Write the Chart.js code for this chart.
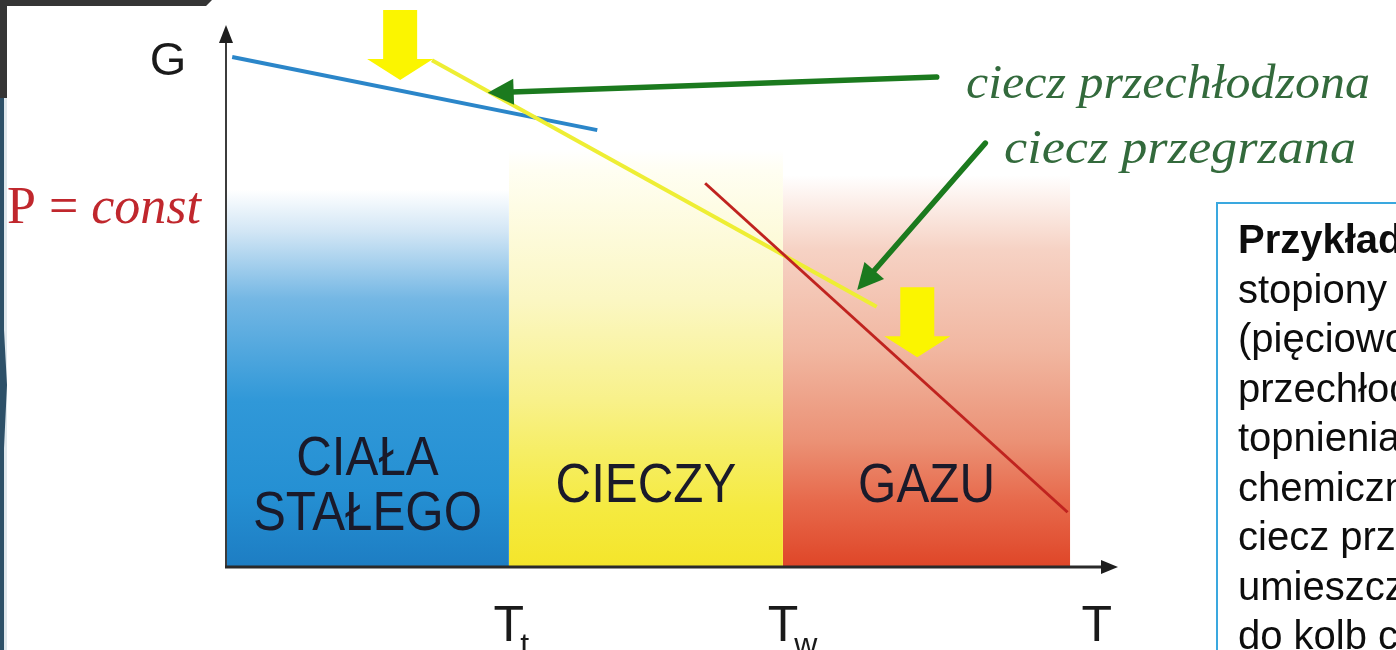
<!DOCTYPE html>
<html lang="pl">
<head>
<meta charset="utf-8">
<title>Energia swobodna G w funkcji temperatury (P = const)</title>
<script src="https://cdn.jsdelivr.net/npm/chart.js@4.4.1/dist/chart.umd.min.js"></script>
<style>
  html, body { margin: 0; padding: 0; background: #ffffff; overflow: hidden; }
  #wrap { position: relative; width: 1396px; height: 650px; }
</style>
</head>
<body>
<div id="wrap"><canvas id="chart"></canvas></div>
<script>
// Temperature T and Gibbs energy G, both in arbitrary units 0–100.
const phaseNames  = [['CIAŁA', 'STAŁEGO'], ['CIECZY'], ['GAZU']];
const phaseStartT = [0, 32, 63];
const phaseEndT   = [32, 63, 95.5];
const phaseTopG   = [69.6, 77, 72.3];

// G(T) of each phase
const solidT  = [0.7, 42];
const solidG  = [94.1, 80.6];
const liquidT = [23.3, 73.6];
const liquidG = [93.5, 48];
const gasT    = [54.2, 95.2];
const gasG    = [70.8, 10.1];

// temperature ticks: melting point, boiling point, axis name
const tickT    = [32, 63, 98.5];
const tickMain = ['T', 'T', 'T'];
const tickSub  = ['t', 'w', ''];

// labelled arrows pointing at the metastable liquid branches
const noteTexts     = ['ciecz przechłodzona', 'ciecz przegrzana'];
const noteTailT     = [80.4, 85.9];
const noteTailG     = [90.4, 78.2];
const noteTipT      = [29.6, 71.4];
const noteTipG      = [87.5, 51.1];

// yellow arrows marking where the metastable liquid drops to the stable phase
const dropTipT = [19.7, 78.2];
const dropTipG = [89.85, 38.7];

const sideNote = [
  'Przykład:', 'stopiony', '(pięciowodny)', 'przechłodzony', 'topnienia',
  'chemicznie', 'ciecz przechłodzona', 'umieszczona', 'do kolb chemicznych'
];

const phaseStops = [
  [[0, '#ffffff'], [0.11, '#d2e6f5'], [0.29, '#74b7e4'], [0.56, '#3098d8'], [0.8, '#2590d3'], [1, '#1d7dc3']],
  [[0, '#ffffff'], [0.05, '#fffef2'], [0.36, '#fbf7c3'], [0.6, '#f8f18a'], [0.72, '#f6ee66'], [0.86, '#f5ea40'], [1, '#f4e52a']],
  [[0, '#ffffff'], [0.05, '#fdf3ef'], [0.19, '#f6d2c4'], [0.45, '#f1b6a0'], [0.68, '#eb9175'], [0.83, '#e76a4c'], [1, '#df4628']]
];

function phaseFill(i) {
  return (context) => {
    const chart = context.chart;
    const { ctx, chartArea, scales } = chart;
    if (!chartArea) return 'rgba(0,0,0,0)';
    const top = scales.y.getPixelForValue(phaseTopG[i]);
    const bottom = scales.y.getPixelForValue(0);
    const g = ctx.createLinearGradient(0, top, 0, bottom);
    phaseStops[i].forEach(([o, c]) => g.addColorStop(o, c));
    return g;
  };
}

const pts = (ts, gs) => ts.map((t, i) => ({ x: t, y: gs[i] }));

const phaseSets = phaseNames.map((name, i) => ({
  label: name.join(' '),
  data: [{ x: phaseStartT[i], y: phaseTopG[i] }, { x: phaseEndT[i], y: phaseTopG[i] }],
  fill: 'origin',
  backgroundColor: phaseFill(i),
  borderColor: 'rgba(0,0,0,0)',
  borderWidth: 0,
  pointRadius: 0,
  order: 10
}));

const curveSets = [
  { label: 'gaz', data: pts(gasT, gasG), borderColor: '#c0231f', borderWidth: 3, order: 1 },
  { label: 'ciecz', data: pts(liquidT, liquidG), borderColor: '#eeee34', borderWidth: 4, order: 2 },
  { label: 'ciało stałe', data: pts(solidT, solidG), borderColor: '#2b86c9', borderWidth: 4, order: 3 }
].map(d => Object.assign(d, { fill: false, pointRadius: 0, tension: 0 }));

function px(chart, t, g) {
  return [chart.scales.x.getPixelForValue(t), chart.scales.y.getPixelForValue(g)];
}

function lineArrow(ctx, tail, tip, width, headLen, headHalf, color) {
  const dx = tip[0] - tail[0], dy = tip[1] - tail[1];
  const len = Math.hypot(dx, dy);
  const ux = dx / len, uy = dy / len;
  const bx = tip[0] - ux * headLen, by = tip[1] - uy * headLen;
  ctx.strokeStyle = color;
  ctx.fillStyle = color;
  ctx.lineWidth = width;
  ctx.lineCap = 'round';
  ctx.beginPath();
  ctx.moveTo(tail[0], tail[1]);
  ctx.lineTo(bx + ux * 2, by + uy * 2);
  ctx.stroke();
  ctx.beginPath();
  ctx.moveTo(tip[0], tip[1]);
  ctx.lineTo(bx - uy * headHalf, by + ux * headHalf);
  ctx.lineTo(bx + uy * headHalf, by - ux * headHalf);
  ctx.closePath();
  ctx.fill();
}

function blockArrow(ctx, tip, shaftW, shaftLen, headW, headLen, color) {
  const [x, y] = tip;
  ctx.fillStyle = color;
  ctx.beginPath();
  ctx.moveTo(x, y);
  ctx.lineTo(x - headW / 2, y - headLen);
  ctx.lineTo(x - shaftW / 2, y - headLen);
  ctx.lineTo(x - shaftW / 2, y - headLen - shaftLen);
  ctx.lineTo(x + shaftW / 2, y - headLen - shaftLen);
  ctx.lineTo(x + shaftW / 2, y - headLen);
  ctx.lineTo(x + headW / 2, y - headLen);
  ctx.closePath();
  ctx.fill();
}

function fittedText(ctx, text, x, y, width) {
  const w = ctx.measureText(text).width;
  ctx.save();
  ctx.translate(x, y);
  ctx.scale(width / w, 1);
  ctx.fillText(text, 0, 0);
  ctx.restore();
}

function narrowText(ctx, text, x, y, squeeze) {
  ctx.save();
  ctx.translate(x, y);
  ctx.scale(squeeze, 1);
  ctx.fillText(text, 0, 0);
  ctx.restore();
}

const slideFrame = {
  id: 'slideFrame',
  beforeDraw(chart) {
    const ctx = chart.ctx;
    ctx.save();
    ctx.fillStyle = '#ffffff';
    ctx.fillRect(0, 0, chart.width, chart.height);
    // dark slide corner
    ctx.fillStyle = '#353535';
    ctx.beginPath();
    ctx.moveTo(0, 0); ctx.lineTo(212, 0); ctx.lineTo(206, 6); ctx.lineTo(7, 6);
    ctx.lineTo(7, 98); ctx.lineTo(0, 98); ctx.closePath();
    ctx.fill();
    // left blue band
    ctx.fillStyle = '#dfe7ec';
    ctx.fillRect(4, 98, 3, chart.height - 98);
    ctx.fillStyle = '#2d5068';
    ctx.beginPath();
    ctx.moveTo(0, 98); ctx.lineTo(4, 98); ctx.lineTo(4, 330);
    ctx.lineTo(7, 385); ctx.lineTo(4, 448); ctx.lineTo(4, chart.height);
    ctx.lineTo(0, chart.height); ctx.closePath();
    ctx.fill();
    ctx.restore();
  },
  afterDatasetsDraw(chart) {
    const ctx = chart.ctx;
    const area = chart.chartArea;
    ctx.save();

    // yellow drop arrows
    dropTipT.forEach((t, i) => {
      blockArrow(ctx, px(chart, t, dropTipG[i]), 34, 49, 66, 21, '#fbf500');
    });

    // axes with arrowheads
    const [ox, oy] = px(chart, 0, 0);
    ctx.strokeStyle = '#3c3c3c';
    ctx.fillStyle = '#1e1e1e';
    ctx.lineWidth = 2;
    ctx.beginPath();
    ctx.moveTo(ox, oy + 1); ctx.lineTo(ox, area.top + 14);
    ctx.stroke();
    ctx.strokeStyle = '#2a2a2a';
    ctx.lineWidth = 3;
    ctx.beginPath();
    ctx.moveTo(ox - 1, oy); ctx.lineTo(area.right + 2, oy);
    ctx.stroke();
    ctx.beginPath();
    ctx.moveTo(ox, area.top); ctx.lineTo(ox - 7, area.top + 18); ctx.lineTo(ox + 7, area.top + 18);
    ctx.closePath(); ctx.fill();
    ctx.beginPath();
    ctx.moveTo(area.right + 8, oy); ctx.lineTo(area.right - 9, oy - 7); ctx.lineTo(area.right - 9, oy + 7);
    ctx.closePath(); ctx.fill();

    // green pointer arrows
    noteTexts.forEach((_, i) => {
      lineArrow(ctx, px(chart, noteTailT[i], noteTailG[i]), px(chart, noteTipT[i], noteTipG[i]),
        5.5, 26, 13, '#1b7a1e');
    });

    // phase names
    ctx.fillStyle = '#1a1a2a';
    ctx.font = '56px "Liberation Sans", Arial, sans-serif';
    ctx.textAlign = 'center';
    ctx.textBaseline = 'middle';
    phaseNames.forEach((lines, i) => {
      const cx = chart.scales.x.getPixelForValue((phaseStartT[i] + phaseEndT[i]) / 2);
      const cy = chart.scales.y.getPixelForValue(14.8);
      lines.forEach((line, k) => {
        narrowText(ctx, line, cx, cy + (k - (lines.length - 1) / 2) * 55, 0.88);
      });
    });

    // temperature tick labels
    ctx.fillStyle = '#1a1a1a';
    ctx.textBaseline = 'alphabetic';
    tickT.forEach((t, i) => {
      const x = chart.scales.x.getPixelForValue(t);
      ctx.font = '50px "Liberation Sans", Arial, sans-serif';
      ctx.textAlign = 'center';
      ctx.fillText(tickMain[i], x, 641);
      if (tickSub[i]) {
        const half = ctx.measureText(tickMain[i]).width / 2;
        ctx.font = '32px "Liberation Sans", Arial, sans-serif';
        ctx.textAlign = 'left';
        ctx.fillText(tickSub[i], x + half - 4, 655);
      }
    });

    // axis names
    ctx.font = '47px "Liberation Sans", Arial, sans-serif';
    ctx.textAlign = 'center';
    ctx.fillText('G', 168, 75);

    ctx.fillStyle = '#c0272d';
    ctx.textAlign = 'left';
    ctx.font = '52px "Liberation Serif", "Times New Roman", serif';
    ctx.fillText('P = ', 7, 223);
    const pw = ctx.measureText('P = ').width;
    ctx.font = 'italic 52px "Liberation Serif", "Times New Roman", serif';
    ctx.fillText('const', 7 + pw, 223);

    // notes
    ctx.fillStyle = '#336a3c';
    ctx.font = 'italic 48px "Liberation Serif", "Times New Roman", serif';
    fittedText(ctx, noteTexts[0], 966, 98, 404);
    fittedText(ctx, noteTexts[1], 1004, 163, 352);

    ctx.restore();
  },
  afterDraw(chart) {
    const ctx = chart.ctx;
    ctx.save();
    ctx.fillStyle = '#ffffff';
    ctx.fillRect(1217, 203, 400, 600);
    ctx.strokeStyle = '#3aa8df';
    ctx.lineWidth = 2;
    ctx.strokeRect(1217, 203, 400, 600);
    ctx.fillStyle = '#0d0d0d';
    ctx.textAlign = 'left';
    ctx.textBaseline = 'alphabetic';
    sideNote.forEach((line, i) => {
      ctx.font = (i === 0 ? 'bold ' : '') + '40px "Liberation Sans", Arial, sans-serif';
      ctx.fillText(line, 1238, 253 + i * 49.5);
    });
    ctx.restore();
  }
};

new Chart(document.getElementById('chart'), {
  type: 'line',
  data: { datasets: [...curveSets, ...phaseSets] },
  options: {
    responsive: true,
    maintainAspectRatio: false,
    animation: false,
    events: [],
    layout: { padding: { left: 226, right: 286, top: 25, bottom: 83 } },
    scales: {
      x: { type: 'linear', min: 0, max: 100, display: false },
      y: { type: 'linear', min: 0, max: 100, display: false }
    },
    plugins: { legend: { display: false }, tooltip: { enabled: false } }
  },
  plugins: [slideFrame]
});
</script>
</body>
</html>
